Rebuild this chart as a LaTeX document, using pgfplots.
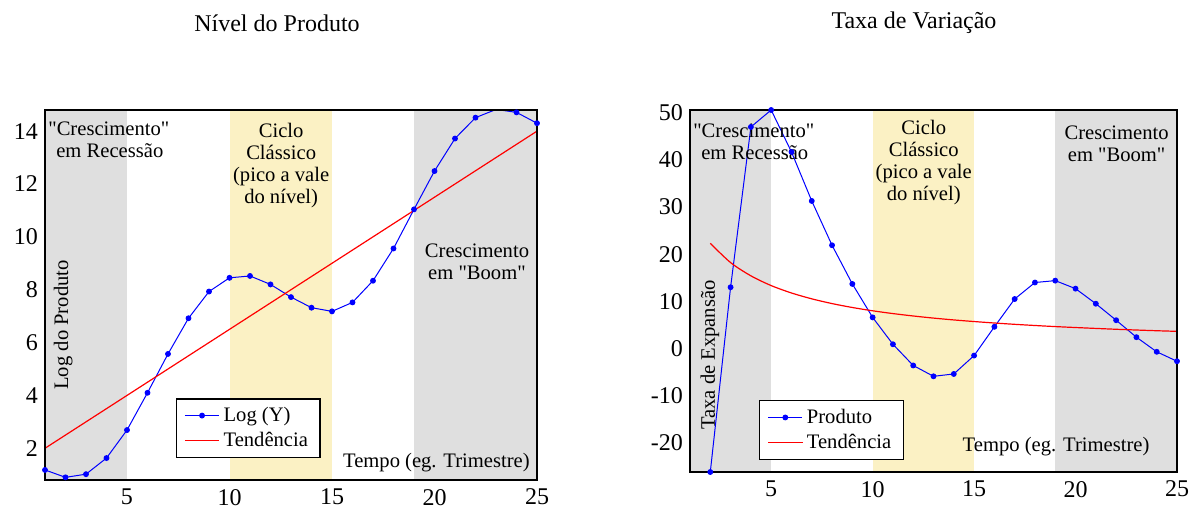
\documentclass[border=0pt]{standalone}
\usepackage{fontspec}
\setmainfont{Liberation Serif}
\usepackage{pgfplots}
\pgfplotsset{compat=1.18}

\definecolor{bandgray}{RGB}{223,223,223}
\definecolor{bandyellow}{RGB}{251,241,196}

\newcommand{\annot}{\fontsize{10.3}{11}\selectfont}
\newcommand{\dq}{\textquotedbl}

\pgfplotsset{
  painel/.style={
    anchor=south west,
    scale only axis,
    xmin=1, xmax=25,
    xtick={5,10,15,20,25},
    major tick length=0pt,
    axis on top,
    axis line style={black, line width=0.6pt},
    tick label style={font=\fontsize{12}{12}\selectfont},
    /pgf/number format/assume math mode=true,
    xticklabel style={yshift=-1pt},
    legend style={draw=black, line width=0.6pt, fill=white,
      font=\annot, legend cell align=left, inner xsep=4pt, inner ysep=2pt,
      row sep=0pt},
    legend image post style={line width=0.5pt},
  },
  serie/.style={blue, line width=0.5pt, mark=*, mark size=1.2pt},
  trend/.style={red, line width=0.6pt, no markers},
}

\begin{document}
\begin{tikzpicture}
\useasboundingbox (0,0) rectangle (594.5pt,254pt);

\node[font=\fontsize{12}{12}\selectfont] at (138.5pt,242.5pt) {Nível do Produto};
\node[font=\fontsize{12}{12}\selectfont] at (457pt,242.5pt) {Taxa de Variação};

% nivel do produto
\begin{axis}[painel,
  at={(22.5pt,14pt)}, width=246pt, height=185pt,
  ymin=0.8, ymax=14.8, ytick={2,4,...,14},
  legend style={at={(0.266,0.059)}, anchor=south west},
]
\addplot[draw=none, fill=bandgray, forget plot] coordinates {(1,-5) (5,-5) (5,20) (1,20)};
\addplot[draw=none, fill=bandyellow, forget plot] coordinates {(10,-5) (15,-5) (15,20) (10,20)};
\addplot[draw=none, fill=bandgray, forget plot] coordinates {(19,-5) (25,-5) (25,20) (19,20)};

\addplot[serie] coordinates {
  (1,1.18) (2,0.90) (3,1.02) (4,1.63) (5,2.69) (6,4.10) (7,5.57) (8,6.92)
  (9,7.93) (10,8.45) (11,8.52) (12,8.20) (13,7.72) (14,7.32) (15,7.18)
  (16,7.52) (17,8.34) (18,9.56) (19,11.04) (20,12.49) (21,13.72)
  (22,14.51) (23,14.82) (24,14.71) (25,14.30)};
\addplot[trend] coordinates {(1,2) (25,14)};
\legend{Log (Y), Tendência}

\node[anchor=north west, align=left, font=\annot, inner sep=0pt]
  at (rel axis cs:0.006,0.968) {\dq Crescimento\dq\\\hspace*{4pt}em Recessão};
\node[anchor=north, align=center, font=\annot, inner sep=0pt]
  at (rel axis cs:0.480,0.965) {Ciclo\\Clássico\\(pico a vale\\do nível)};
\node[anchor=north, align=center, font=\annot, inner sep=0pt]
  at (rel axis cs:0.878,0.640) {Crescimento\\em \dq Boom\dq};
\node[anchor=base east, font=\annot, inner sep=0pt]
  at (rel axis cs:0.986,0.035) {Tempo (eg. Trimestre)};
\node[rotate=90, font=\annot, inner sep=0pt]
  at (rel axis cs:0.037,0.419) {Log do Produto};
\end{axis}

% taxa de variacao
\begin{axis}[painel,
  at={(345pt,18pt)}, width=243.5pt, height=181pt,
  ymin=-26.2, ymax=50.6, ytick={-20,-10,...,50},
  legend style={at={(0.142,0.033)}, anchor=south west},
]
\addplot[draw=none, fill=bandgray, forget plot] coordinates {(1,-40) (5,-40) (5,60) (1,60)};
\addplot[draw=none, fill=bandyellow, forget plot] coordinates {(10,-40) (15,-40) (15,60) (10,60)};
\addplot[draw=none, fill=bandgray, forget plot] coordinates {(19,-40) (25,-40) (25,60) (19,60)};

\addplot[serie] coordinates {
  (2,-26.2) (3,13.0) (4,47.0) (5,50.6) (6,41.7) (7,31.3) (8,21.9) (9,13.7)
  (10,6.6) (11,0.9) (12,-3.6) (13,-5.9) (14,-5.4) (15,-1.5) (16,4.6)
  (17,10.5) (18,14.0) (19,14.4) (20,12.7) (21,9.5) (22,6.0) (23,2.4)
  (24,-0.7) (25,-2.7)};
\addplot[trend, smooth] coordinates {
  (2,22.31) (3,18.23) (4,15.42) (5,13.35) (6,11.78) (7,10.54) (8,9.53)
  (9,8.70) (10,8.00) (11,7.41) (12,6.90) (13,6.45) (14,6.06) (15,5.72)
  (16,5.41) (17,5.13) (18,4.88) (19,4.65) (20,4.45) (21,4.26) (22,4.08)
  (23,3.92) (24,3.77) (25,3.64)};
\legend{Produto, Tendência}

\node[anchor=north west, align=left, font=\annot, inner sep=0pt]
  at (rel axis cs:0.006,0.964) {\dq Crescimento\dq\\\hspace*{4pt}em Recessão};
\node[anchor=north, align=center, font=\annot, inner sep=0pt]
  at (rel axis cs:0.480,0.972) {Ciclo\\Clássico\\(pico a vale\\do nível)};
\node[anchor=north, align=center, font=\annot, inner sep=0pt]
  at (rel axis cs:0.876,0.956) {Crescimento\\em \dq Boom\dq};
\node[anchor=base east, font=\annot, inner sep=0pt]
  at (rel axis cs:0.944,0.058) {Tempo (eg. Trimestre)};
\node[rotate=90, font=\annot, inner sep=0pt]
  at (rel axis cs:0.041,0.323) {Taxa de Expansão};
\end{axis}
\end{tikzpicture}
\end{document}
